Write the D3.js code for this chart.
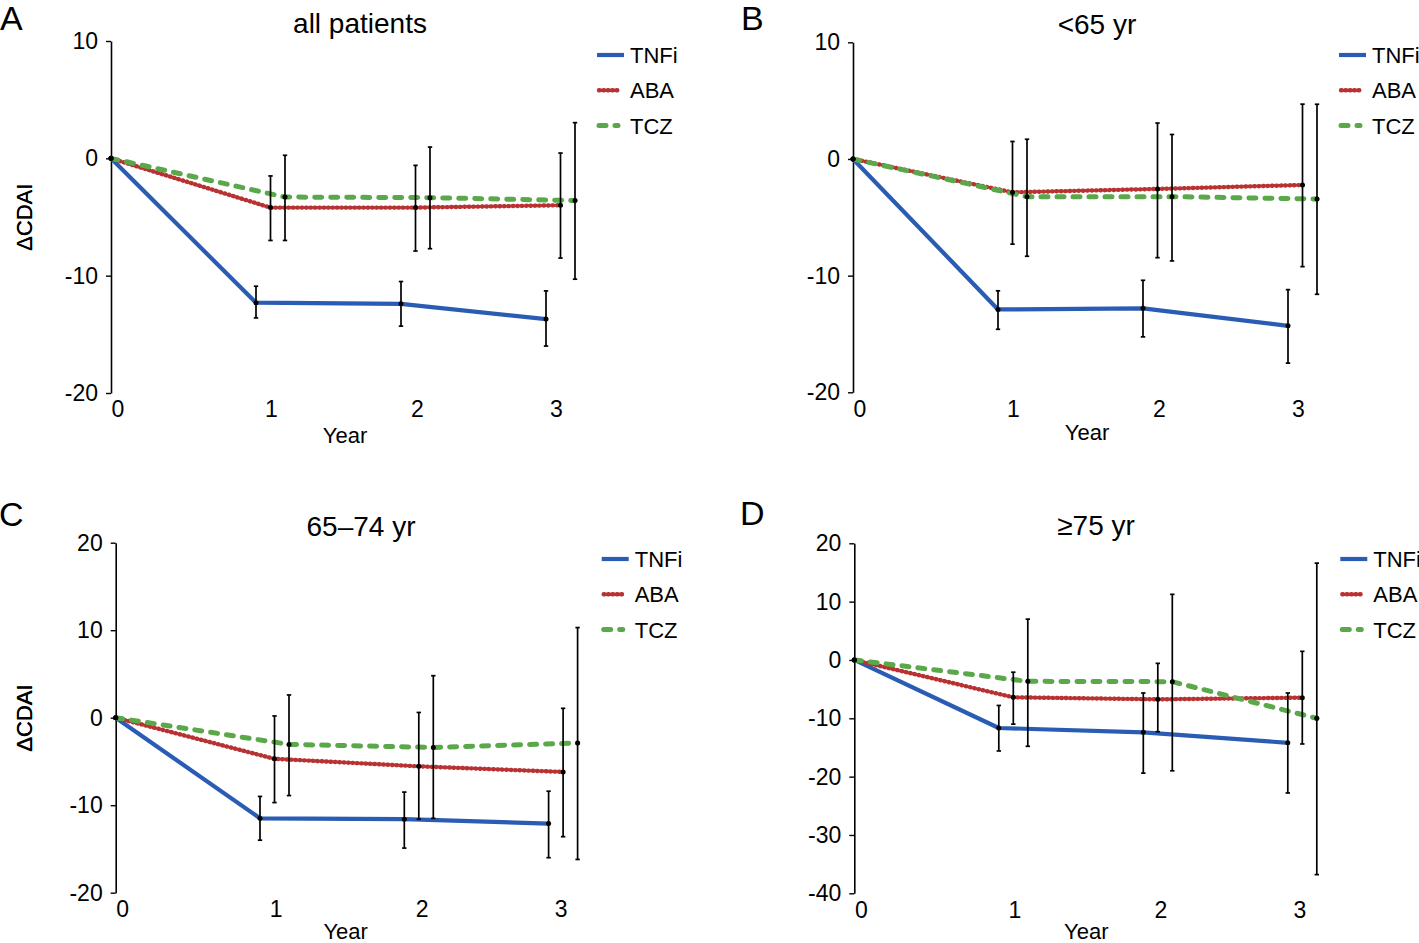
<!DOCTYPE html>
<html>
<head>
<meta charset="utf-8">
<script src="https://cdn.jsdelivr.net/npm/d3@7"></script>
<style>
  html, body { margin: 0; padding: 0; background: #fff; }
  svg { display: block; font-family: "Liberation Sans", Arial, Helvetica, sans-serif; }
</style>
</head>
<body>
<svg id="chart" width="1419" height="943"></svg>
<script>
// ---------------- DATA ----------------
const years = [0, 1, 2, 3];
const seriesNames = ["TNFi", "ABA", "TCZ"];
const panelTitles = ["all patients", "<65 yr", "65\u201374 yr", "\u226575 yr"];
const panelLetters = ["A", "B", "C", "D"];
const yTicksA = [-20, -10, 0, 10];
const yTicksB = [-20, -10, 0, 10];
const yTicksC = [-20, -10, 0, 10, 20];
const yTicksD = [-40, -30, -20, -10, 0, 10, 20];

// Panel A: all patients (mean, lower, upper; year 0 = 0)
const tnfiA = [0, -12.3, -12.4, -13.7];
const tnfiA_hi = [null, -10.9, -10.5, -11.3];
const tnfiA_lo = [null, -13.6, -14.3, -16.0];
const abaA = [0, -4.2, -4.2, -4.0];
const abaA_hi = [null, -1.5, -0.6, 0.45];
const abaA_lo = [null, -7.0, -7.9, -8.5];
const tczA = [0, -3.3, -3.35, -3.6];
const tczA_hi = [null, 0.26, 0.96, 3.04];
const tczA_lo = [null, -7.0, -7.7, -10.3];

// Panel B: <65 yr
const tnfiB = [0, -12.9, -12.8, -14.3];
const tnfiB_hi = [null, -11.3, -10.4, -11.2];
const tnfiB_lo = [null, -14.6, -15.25, -17.5];
const abaB = [0, -2.86, -2.57, -2.23];
const abaB_hi = [null, 1.5, 3.08, 4.7];
const abaB_lo = [null, -7.3, -8.46, -9.23];
const tczB = [0, -3.23, -3.23, -3.43];
const tczB_hi = [null, 1.69, 2.1, 4.69];
const tczB_lo = [null, -8.34, -8.74, -11.6];

// Panel C: 65-74 yr
const tnfiC = [0, -11.5, -11.6, -12.1];
const tnfiC_hi = [null, -9.0, -8.5, -8.4];
const tnfiC_lo = [null, -14.0, -14.9, -16.0];
const abaC = [0, -4.7, -5.56, -6.2];
const abaC_hi = [null, 0.2, 0.6, 1.07];
const abaC_lo = [null, -9.7, -11.6, -13.6];
const tczC = [0, -3.05, -3.4, -2.9];
const tczC_hi = [null, 2.6, 4.8, 10.3];
const tczC_lo = [null, -8.9, -11.5, -16.2];

// Panel D: >=75 yr
const tnfiD = [0, -11.66, -12.4, -14.2];
const tnfiD_hi = [null, -7.8, -5.66, -5.66];
const tnfiD_lo = [null, -15.6, -19.4, -22.8];
const abaD = [0, -6.4, -6.75, -6.46];
const abaD_hi = [null, -2.1, -0.58, 1.48];
const abaD_lo = [null, -11.0, -12.3, -14.4];
const tczD = [0, -3.66, -3.72, -10.0];
const tczD_hi = [null, 7.0, 11.25, 16.6];
const tczD_lo = [null, -14.8, -19.0, -36.8];

// ---------------- LAYOUT / STYLE ----------------
const styles = {
  TNFi: { color: "#2a5cb4", width: 4.2, dash: null, cap: "butt" },
  ABA:  { color: "#b83232", width: 4.4, dash: "0.7,3.7", cap: "round" },
  TCZ:  { color: "#5aa84a", width: 5, dash: "7,9", cap: "round" }
};
const seriesOffset = { TNFi: -14.5, ABA: 0, TCZ: 14.5 };
const xLabelOffsets = [6.5, 160, 306, 445];

const panels = [
  { axisX: 111, yTop: 41, yBot: 393, domain: [-20, 10], ticks: yTicksA, xStep: 145,
    data: { TNFi: [tnfiA, tnfiA_lo, tnfiA_hi], ABA: [abaA, abaA_lo, abaA_hi], TCZ: [tczA, tczA_lo, tczA_hi] },
    titleX: 360, titleY: 33, letterX: 0, letterY: 30, legendY: 55, yearDy: 50, yearDx: 234 },
  { axisX: 853, yTop: 42.3, yBot: 392.3, domain: [-20, 10], ticks: yTicksB, xStep: 145,
    data: { TNFi: [tnfiB, tnfiB_lo, tnfiB_hi], ABA: [abaB, abaB_lo, abaB_hi], TCZ: [tczB, tczB_lo, tczB_hi] },
    titleX: 1097, titleY: 34, letterX: 741, letterY: 30, legendY: 55, yearDy: 48, yearDx: 234 },
  { axisX: 115.7, yTop: 542.7, yBot: 892.7, domain: [-20, 20], ticks: yTicksC, xStep: 144.3,
    data: { TNFi: [tnfiC, tnfiC_lo, tnfiC_hi], ABA: [abaC, abaC_lo, abaC_hi], TCZ: [tczC, tczC_lo, tczC_hi] },
    titleX: 361, titleY: 536, letterX: -1, letterY: 526, legendY: 559, yearDy: 46, yearDx: 230 },
  { axisX: 854.3, yTop: 543.3, yBot: 893.3, domain: [-40, 20], ticks: yTicksD, xStep: 144.5,
    data: { TNFi: [tnfiD, tnfiD_lo, tnfiD_hi], ABA: [abaD, abaD_lo, abaD_hi], TCZ: [tczD, tczD_lo, tczD_hi] },
    titleX: 1096, titleY: 535, letterX: 740, letterY: 525, legendY: 559, yearDy: 46, yearDx: 232 }
];

const svg = d3.select("#chart");

panels.forEach((p, pi) => {
  const g = svg.append("g");
  const y = d3.scaleLinear().domain(p.domain).range([p.yBot, p.yTop]);
  const x0 = p.axisX + 14.5;
  const x = d3.scaleLinear().domain([0, 3]).range([x0, x0 + 3 * p.xStep]);
  const xLab = d3.scaleLinear().domain(years).range(xLabelOffsets.map(o => p.axisX + o));
  const px = (name, yr) => yr === 0 ? p.axisX : x(yr) + seriesOffset[name];

  // y axis
  const yAxis = d3.axisLeft(y).tickValues(p.ticks).tickFormat(d => String(d))
    .tickSize(5).tickSizeOuter(0).tickPadding(8);
  const ya = g.append("g").attr("transform", `translate(${p.axisX},0)`).call(yAxis);
  ya.select(".domain").attr("stroke", "#000").attr("stroke-width", 1.6);
  ya.selectAll(".tick line").attr("stroke", "#000").attr("stroke-width", 1.4);
  ya.selectAll(".tick text").attr("font-size", 23).attr("fill", "#000")
    .attr("font-family", "Liberation Sans, Arial, sans-serif");

  // x axis (labels only)
  const xAxis = d3.axisBottom(xLab).tickValues(years).tickFormat(d3.format("d")).tickSize(0).tickPadding(8);
  const xa = g.append("g").attr("transform", `translate(0,${p.yBot})`).call(xAxis);
  xa.select(".domain").remove();
  xa.selectAll(".tick text").attr("font-size", 23).attr("fill", "#000")
    .attr("font-family", "Liberation Sans, Arial, sans-serif");

  // axis titles
  g.append("text").attr("x", p.axisX + p.yearDx).attr("y", p.yBot + p.yearDy)
    .attr("text-anchor", "middle").attr("font-size", 22).text("Year");
  const yMid = (p.yTop + p.yBot) / 2;
  g.append("text").attr("transform", `translate(32,${yMid}) rotate(-90)`)
    .attr("text-anchor", "middle").attr("font-size", 22).text("\u0394CDAI");

  // panel title & letter
  g.append("text").attr("x", p.titleX).attr("y", p.titleY).attr("text-anchor", "middle")
    .attr("font-size", 28).text(panelTitles[pi]);
  g.append("text").attr("x", p.letterX).attr("y", p.letterY)
    .attr("font-size", 34).text(panelLetters[pi]);

  // lines
  seriesNames.forEach(name => {
    const st = styles[name];
    const vals = p.data[name][0];
    const line = d3.line().x((d, i) => px(name, years[i])).y(d => y(d));
    g.append("path").datum(vals).attr("d", line).attr("fill", "none")
      .attr("stroke", st.color).attr("stroke-width", st.width)
      .attr("stroke-dasharray", st.dash).attr("stroke-linecap", st.cap)
      .attr("stroke-linejoin", "round");
  });

  // error bars & points
  seriesNames.forEach(name => {
    const [vals, lo, hi] = p.data[name];
    years.forEach((yr, i) => {
      if (lo[i] !== null) {
        const cx = px(name, yr);
        g.append("line").attr("x1", cx).attr("x2", cx).attr("y1", y(hi[i])).attr("y2", y(lo[i]))
          .attr("stroke", "#000").attr("stroke-width", 1.7);
        [hi[i], lo[i]].forEach(v => {
          g.append("line").attr("x1", cx - 2.2).attr("x2", cx + 2.2).attr("y1", y(v)).attr("y2", y(v))
            .attr("stroke", "#000").attr("stroke-width", 1.7);
        });
      }
      g.append("circle").attr("cx", px(name, yr)).attr("cy", y(vals[i])).attr("r", 2.5).attr("fill", "#000");
    });
  });

  // legend
  const lx = p.axisX + 486;
  seriesNames.forEach((name, k) => {
    const st = styles[name];
    const ly = p.legendY + k * 35.3;
    g.append("line").attr("x1", lx + (name === "TNFi" ? 0 : 2)).attr("x2", name === "TNFi" ? lx + 27 : lx + 21)
      .attr("y1", ly).attr("y2", ly)
      .attr("stroke", st.color).attr("stroke-width", st.width)
      .attr("stroke-dasharray", st.dash).attr("stroke-linecap", st.cap);
    g.append("text").attr("x", lx + 33).attr("y", ly + 8).attr("font-size", 22).text(name);
  });
});
</script>
</body>
</html>
